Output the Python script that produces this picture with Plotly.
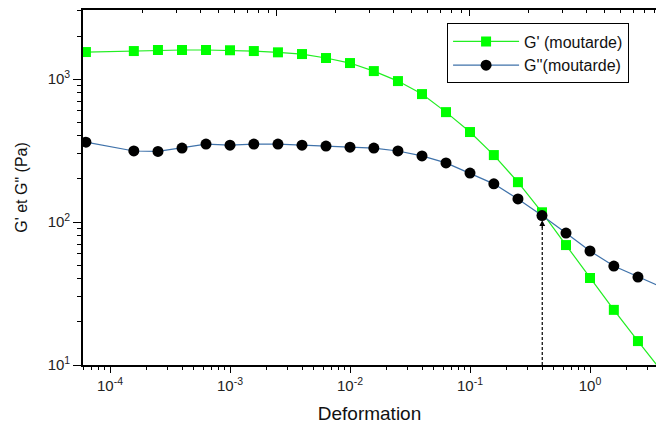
import math
import plotly.graph_objects as go

# ---- data ----
deformation = [6.3e-5, 1.58e-4, 2.51e-4, 3.98e-4, 6.31e-4, 1.0e-3, 1.58e-3, 2.51e-3,
               3.98e-3, 6.31e-3, 0.01, 0.0158, 0.0251, 0.0398, 0.0631, 0.1, 0.158,
               0.251, 0.398, 0.631, 1.0, 1.58, 2.51, 3.98]
g_prime = [1545, 1570, 1597, 1597, 1597, 1590, 1570, 1538, 1496, 1403, 1294, 1137,
           968, 785, 587, 426, 294, 190, 117, 69, 40.6, 24.3, 14.7, 9.0]
g_second = [362, 314, 312, 329, 351, 345, 351, 351, 345, 340, 334, 329, 314, 290,
            259, 220, 185, 145, 111, 83.7, 62.7, 49.2, 41.2, 35.0]

x_tickvals = [1e-4, 1e-3, 1e-2, 1e-1, 1e0]
x_ticktext = ["10<sup>-4</sup>", "10<sup>-3</sup>", "10<sup>-2</sup>", "10<sup>-1</sup>", "10<sup>0</sup>"]
y_tickvals = [10, 100, 1000]
y_ticktext = ["10<sup>1</sup>", "10<sup>2</sup>", "10<sup>3</sup>"]

crossover_x = 0.4
crossover_y = 103

names = ["G' (moutarde)", "G''(moutarde)"]

FONT = "Arial, Liberation Sans, sans-serif"


def minor_vals(decades):
    return [m * d for d in decades for m in range(2, 10)]


fig = go.Figure()
fig.add_trace(go.Scatter(
    x=deformation, y=g_prime, name=names[0], mode="lines+markers",
    line=dict(color="#22ee22", width=1.2),
    marker=dict(symbol="square", size=10, color="#00ff00"),
))
fig.add_trace(go.Scatter(
    x=deformation, y=g_second, name=names[1], mode="lines+markers",
    line=dict(color="#3f72aa", width=1.2),
    marker=dict(symbol="circle", size=11, color="#000000"),
))
# invisible trace to activate the top axis
fig.add_trace(go.Scatter(x=[1], y=[100], xaxis="x2", mode="markers",
                         marker=dict(opacity=0), showlegend=False, hoverinfo="skip"))

fig.add_shape(type="line", xref="x", yref="y", x0=crossover_x, x1=crossover_x,
              y0=10, y1=crossover_y, line=dict(color="black", width=1.2, dash="3px,2px"))
fig.add_annotation(x=math.log10(crossover_x), y=math.log10(crossover_y), xref="x", yref="y",
                   ax=0, ay=9, text="", showarrow=True, arrowhead=2, arrowsize=0.9,
                   arrowwidth=1.3, arrowcolor="black")

axis_font = dict(family=FONT, size=15, color="#222222")

fig.update_layout(
    width=656, height=427,
    margin=dict(l=83, r=0, t=10, b=62, autoexpand=False),
    paper_bgcolor="white", plot_bgcolor="white",
    font=dict(family=FONT, color="#222222"),
    showlegend=True,
    legend=dict(x=0.953, y=0.962, xanchor="right", yanchor="top",
                bgcolor="white", bordercolor="black", borderwidth=1,
                font=dict(family=FONT, size=16, color="#111111"),
                itemwidth=66, tracegroupgap=0),
    xaxis=dict(
        type="log", range=[-4.225, 0.55],
        showline=True, linecolor="black", linewidth=1.6,
        showgrid=False, zeroline=False,
        ticks="outside", ticklen=6, tickwidth=1.4, tickcolor="black",
        tickmode="array", tickvals=x_tickvals, ticktext=x_ticktext,
        tickfont=axis_font,
        minor=dict(tickmode="array", tickvals=minor_vals([1e-5, 1e-4, 1e-3, 1e-2, 1e-1, 1]),
                   ticks="outside", ticklen=3, tickwidth=1.2, tickcolor="black", showgrid=False),
        title=dict(text="Deformation", font=dict(family=FONT, size=19, color="#111111"),
                   standoff=14),
    ),
    xaxis2=dict(
        type="log", range=[-1.005, 1.964], overlaying="x", side="top",
        showline=True, linecolor="black", linewidth=1.6,
        showgrid=False, zeroline=False, showticklabels=False,
        ticks="inside", ticklen=6, tickwidth=1.4, tickcolor="black",
        tickmode="array", tickvals=[1, 10],
        minor=dict(tickmode="array", tickvals=minor_vals([0.1, 1, 10]),
                   ticks="inside", ticklen=3, tickwidth=1.2, tickcolor="black", showgrid=False),
    ),
    yaxis=dict(
        type="log", range=[1, 3.483],
        showline=True, linecolor="black", linewidth=1.6,
        showgrid=False, zeroline=False,
        ticks="outside", ticklen=8, tickwidth=1.4, tickcolor="black",
        tickmode="array", tickvals=y_tickvals, ticktext=y_ticktext,
        tickfont=axis_font,
        minor=dict(tickmode="array", tickvals=minor_vals([1, 10, 100, 1000]),
                   ticks="outside", ticklen=4, tickwidth=1.2, tickcolor="black", showgrid=False),
        title=dict(text="G' et G\" (Pa)", font=dict(family=FONT, size=16, color="#111111"),
                   standoff=16),
    ),
)

fig.write_html("out.html", config={"displayModeBar": False},
               post_script="document.body.style.margin='0';document.body.style.padding='0';")
